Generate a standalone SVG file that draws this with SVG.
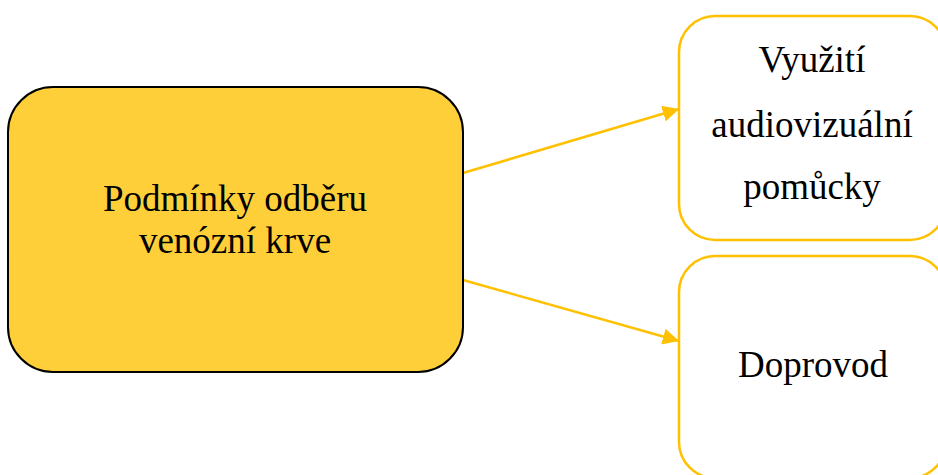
<svg xmlns="http://www.w3.org/2000/svg" width="938" height="475" viewBox="0 0 938 475">
<defs>
<style>
.t{font-family:"Liberation Serif","Times New Roman",serif;font-size:37px;fill:#000;text-anchor:middle}
.sub{fill:#fff;stroke:#FFC000;stroke-width:2.5}
.c{stroke:#FFC000;stroke-width:2.5;fill:none}
</style>
<marker id="ah" viewBox="0 0 10 10" refX="10" refY="5" markerWidth="6.5" markerHeight="6.5" markerUnits="strokeWidth" orient="auto">
<path d="M0,0 L10,5 L0,10 z" fill="#FFC000"/>
</marker>
</defs>
<rect width="938" height="475" fill="#fff"/>
<g id="connectors">
<line class="c" x1="463" y1="173" x2="679" y2="109" marker-end="url(#ah)"/>
<line class="c" x1="463" y1="280" x2="679" y2="341" marker-end="url(#ah)"/>
</g>
<g id="main">
<rect x="8" y="87" width="455" height="285" rx="45" fill="#FFCF3A" stroke="#000" stroke-width="2"/>
<text class="t" x="235" y="211">Podmínky odběru</text>
<text class="t" x="235" y="253">venózní krve</text>
</g>
<g id="vyuziti">
<rect class="sub" x="679" y="16" width="267" height="224" rx="36"/>
<text class="t" x="812" y="72">Využití</text>
<text class="t" x="812" y="137">audiovizuální</text>
<text class="t" x="812" y="199">pomůcky</text>
</g>
<g id="doprovod">
<rect class="sub" x="679" y="256" width="267" height="222" rx="36"/>
<text class="t" x="813" y="377">Doprovod</text>
</g>
</svg>
